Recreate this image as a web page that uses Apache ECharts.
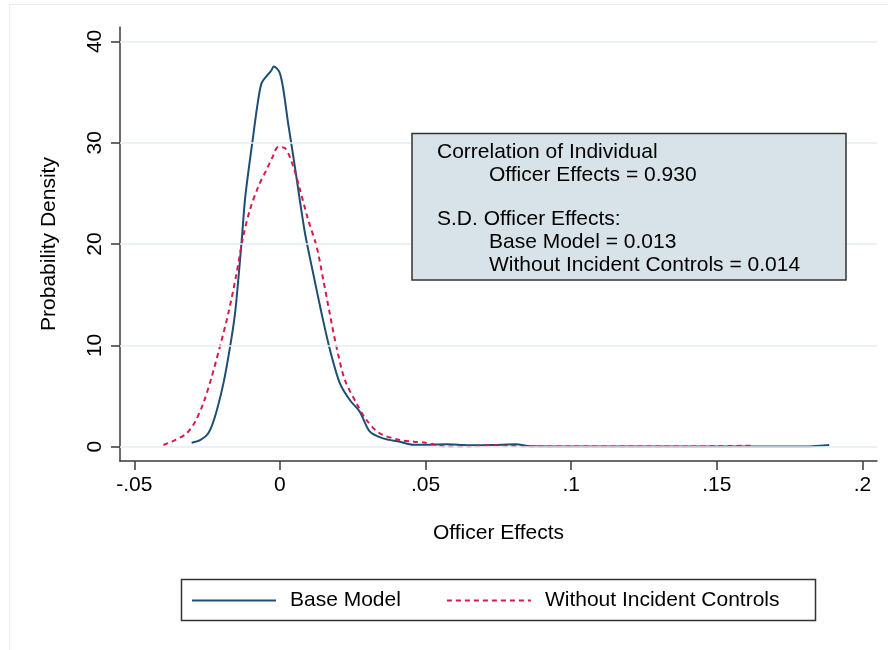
<!DOCTYPE html>
<html>
<head>
<meta charset="utf-8">
<script src="https://cdn.jsdelivr.net/npm/echarts@6/dist/echarts.min.js"></script>
<style>
  html, body { margin: 0; padding: 0; background: #fff; }
  #chart { width: 888px; height: 650px; }
</style>
</head>
<body>
<div id="chart"></div>
<script>
// Kernel density of estimated officer effects, two model specifications
const baseX = [-0.0303, -0.0274, -0.0246, -0.0223, -0.0194, -0.0171, -0.0154, -0.0143, -0.0131, -0.0120,
  -0.0106, -0.0092, -0.0078, -0.0063, -0.0045, -0.0030, -0.0021, -0.0002, 0.0011, 0.0028,
  0.0046, 0.0063, 0.0086, 0.0114, 0.0143, 0.0172, 0.0206, 0.0240, 0.0274, 0.0309,
  0.0354, 0.0412, 0.0457, 0.0500, 0.0572, 0.0650, 0.0730, 0.0810, 0.0860, 0.1000,
  0.1200, 0.1400, 0.1600, 0.1750, 0.1830, 0.1886];
const baseY = [0.40, 0.66, 1.32, 2.96, 6.25, 9.88, 13.17, 16.46, 20.41, 24.36,
  27.65, 30.61, 33.57, 35.88, 36.6, 37.1, 37.53, 37.0, 35.4, 31.95,
  28.66, 25.37, 21.09, 17.14, 13.17, 9.55, 6.25, 4.61, 3.46, 1.48,
  0.82, 0.49, 0.20, 0.20, 0.24, 0.15, 0.17, 0.24, 0.05, 0.03,
  0.02, 0.02, 0.02, 0.02, 0.05, 0.17];

const noCtrlX = [-0.0400, -0.0360, -0.0320, -0.0291, -0.0263, -0.0234, -0.0206, -0.0177, -0.0151, -0.0126,
  -0.0103, -0.0074, -0.0046, -0.0025, -0.0006, 0.0017, 0.0046, 0.0069, 0.0097, 0.0126,
  0.0149, 0.0171, 0.0194, 0.0223, 0.0263, 0.0297, 0.0343, 0.0412, 0.0460, 0.0500,
  0.0540, 0.0570, 0.0650, 0.0720, 0.0780, 0.0850, 0.1000, 0.1200, 0.1400, 0.1618];
const noCtrlY = [0.17, 0.66, 1.32, 2.47, 4.29, 6.91, 9.88, 13.17, 16.79, 20.74,
  23.38, 25.68, 27.33, 28.6, 29.57, 29.47, 27.65, 25.35, 22.39, 19.75,
  16.46, 13.17, 9.88, 6.59, 4.29, 2.64, 1.32, 0.66, 0.50, 0.40,
  0.15, 0.02, 0.02, 0.15, 0.10, 0.02, 0.02, 0.02, 0.02, 0.10];

const seriesNames = ['Base Model', 'Without Incident Controls'];
const xTicks = [-0.05, 0, 0.05, 0.1, 0.15, 0.2];
const yTicks = [0, 10, 20, 30, 40];
const xTitle = 'Officer Effects';
const yTitle = 'Probability Density';
const noteLines = [
  'Correlation of Individual',
  'Officer Effects = 0.930',
  'S.D. Officer Effects:',
  'Base Model = 0.013',
  'Without Incident Controls = 0.014'
];

const FONT = '"Liberation Sans", Arial, Helvetica, sans-serif';
const AXIS_COLOR = '#3a3a3a';

function pairs(xs, ys) { return xs.map((x, i) => [x, ys[i]]); }
function stataNum(v) {
  // Stata-style tick labels: drop the leading zero (.05, -.05)
  if (v === 0) return '0';
  let s = String(+v.toFixed(4));
  return s.replace(/^(-?)0\./, '$1.');
}

const chart = echarts.init(document.getElementById('chart'), null, { renderer: 'canvas' });

// text block inside the note box
const noteX = [437, 489, 437, 489, 489];
const noteY = [152, 175, 219, 242, 265];
const noteTexts = noteLines.map((t, i) => ({
  type: 'text', x: noteX[i], y: noteY[i], z: 101,
  style: { text: t, font: '21px ' + FONT, fill: '#000', textVerticalAlign: 'middle', textAlign: 'left' }
}));

chart.setOption({
  animation: false,
  backgroundColor: '#ffffff',
  textStyle: { fontFamily: FONT },
  grid: { left: 120, right: 11, top: 27, bottom: 189, containLabel: false },
  xAxis: {
    type: 'value', min: -0.0549, max: 0.2050,
    name: xTitle, nameLocation: 'middle', nameGap: 62,
    nameTextStyle: { fontSize: 21, color: '#000', fontFamily: FONT },
    axisLine: { show: true, onZero: false, lineStyle: { color: AXIS_COLOR, width: 1.5 } },
    axisTick: { show: true, length: 9, customValues: xTicks, lineStyle: { color: AXIS_COLOR, width: 1.5 } },
    axisLabel: { customValues: xTicks, formatter: stataNum, fontSize: 21, color: '#000', margin: 14, fontFamily: FONT },
    splitLine: { show: false }
  },
  yAxis: {
    type: 'value', min: -1.41, max: 41.42,
    name: yTitle, nameLocation: 'middle', nameGap: 60,
    nameTextStyle: { fontSize: 21, color: '#000', fontFamily: FONT },
    axisLine: { show: true, onZero: false, lineStyle: { color: AXIS_COLOR, width: 1.5 } },
    axisTick: { show: true, length: 9, customValues: yTicks, lineStyle: { color: AXIS_COLOR, width: 1.5 } },
    axisLabel: { customValues: yTicks, rotate: 90, fontSize: 21, color: '#000', margin: 14, fontFamily: FONT },
    splitLine: { show: false }
  },
  legend: {
    data: seriesNames,
    left: 191, top: 590, padding: 0,
    itemWidth: 84, itemHeight: 20, itemGap: 45,
    itemStyle: { opacity: 0 },
    textStyle: { fontSize: 21, color: '#000', fontFamily: FONT, padding: [0, 0, 0, 9] },
    selectedMode: false
  },
  series: [
    {
      // horizontal grid lines at the labelled density values
      type: 'line', name: 'grid', data: [], z: 1, silent: true,
      markLine: {
        silent: true, symbol: 'none', animation: false,
        label: { show: false },
        lineStyle: { color: '#e6eef1', width: 1.5, type: 'solid' },
        data: yTicks.map(v => ({ yAxis: v }))
      }
    },
    {
      type: 'line', name: seriesNames[0], data: pairs(baseX, baseY), z: 3,
      showSymbol: false, symbol: 'none', smooth: 0.3,
      itemStyle: { color: '#1d4e77' },
      lineStyle: { color: '#1d4e77', width: 2 }
    },
    {
      type: 'line', name: seriesNames[1], data: pairs(noCtrlX, noCtrlY), z: 4,
      showSymbol: false, symbol: 'none', smooth: 0.3,
      itemStyle: { color: '#d9184b' },
      lineStyle: { color: '#d9184b', width: 2, type: [5, 4] }
    }
  ],
  graphic: [
    // faint outer frame of the figure
    { type: 'rect', z: 0, shape: { x: 9.5, y: 4.5, width: 900, height: 700 },
      style: { fill: 'none', stroke: '#e9eef0', lineWidth: 1 } },
    // note box
    { type: 'rect', z: 100, shape: { x: 412, y: 133.5, width: 434, height: 146.5 },
      style: { fill: '#d8e3e9', stroke: '#333', lineWidth: 1.5 } },
    ...noteTexts,
    // legend frame
    { type: 'rect', z: 100, shape: { x: 181.5, y: 579.5, width: 634, height: 41 },
      style: { fill: 'none', stroke: '#333', lineWidth: 1.5 } }
  ]
});
</script>
</body>
</html>
